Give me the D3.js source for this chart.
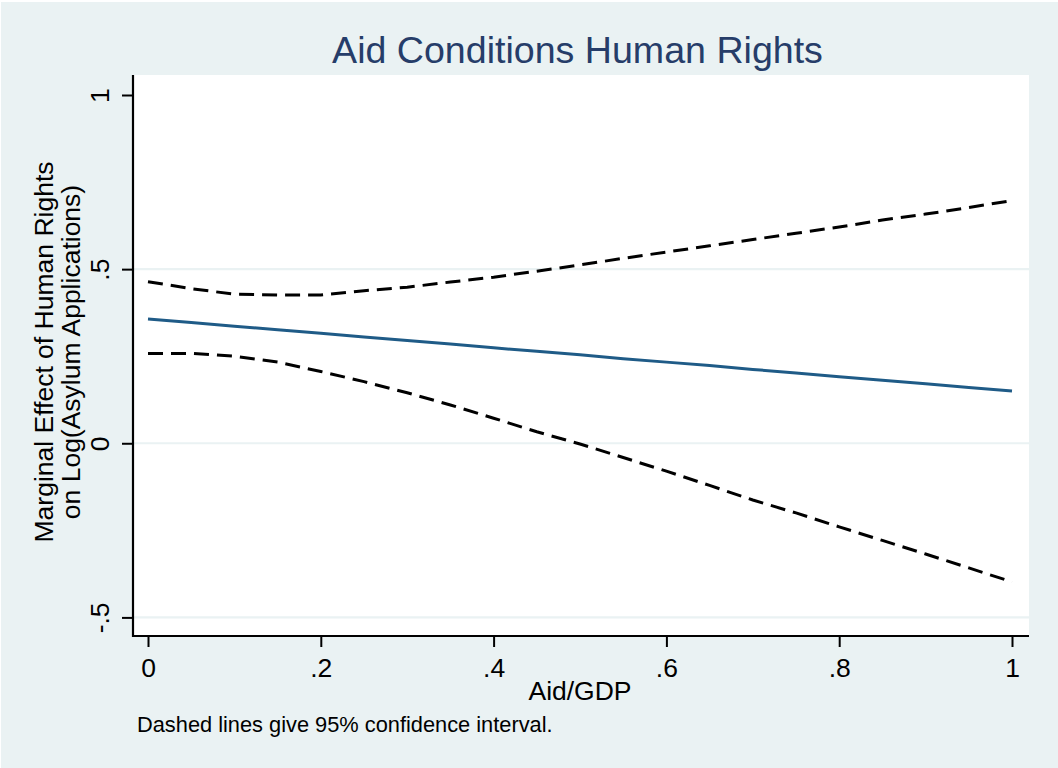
<!DOCTYPE html>
<html>
<head>
<meta charset="utf-8">
<script src="https://cdn.jsdelivr.net/npm/d3@7/dist/d3.min.js"></script>
<style>
  html, body { margin: 0; padding: 0; background: #ffffff; }
  svg { display: block; }
  text { font-family: "Liberation Sans", Arial, Helvetica, sans-serif; }
</style>
</head>
<body>
<svg id="chart" width="1058" height="768"></svg>
<script>
// Aid/GDP grid at which the marginal effect is evaluated
const aidGdp = [0, 0.05, 0.10, 0.15, 0.20, 0.25, 0.30, 0.35, 0.40, 0.45, 0.50,
                0.55, 0.60, 0.65, 0.70, 0.75, 0.80, 0.85, 0.90, 0.95, 1.00];

// Marginal effect of human rights on log(asylum applications)
const effect = [0.357, 0.347, 0.336, 0.326, 0.316, 0.305, 0.295, 0.285, 0.274, 0.264, 0.254,
                0.243, 0.233, 0.223, 0.212, 0.202, 0.191, 0.181, 0.171, 0.160, 0.150];

// 95% confidence bounds
const upperCI = [0.464, 0.444, 0.428, 0.426, 0.426, 0.438, 0.448, 0.463, 0.477, 0.494, 0.512,
                 0.531, 0.549, 0.567, 0.585, 0.603, 0.621, 0.641, 0.658, 0.677, 0.697];
const lowerCI = [0.258, 0.258, 0.250, 0.233, 0.206, 0.177, 0.145, 0.110, 0.072, 0.033, -0.002,
                 -0.041, -0.080, -0.121, -0.163, -0.200, -0.240, -0.279, -0.318, -0.358, -0.398];

// Axis ticks and labels
const xTickValues = [0, 0.2, 0.4, 0.6, 0.8, 1];
const xTickLabels = ["0", ".2", ".4", ".6", ".8", "1"];
const yTickValues = [-0.5, 0, 0.5, 1];
const yTickLabels = ["-.5", "0", ".5", "1"];
const yGridValues = [-0.5, 0, 0.5];

const titleText = "Aid Conditions Human Rights";
const yTitleLines = ["Marginal Effect of Human Rights", "on Log(Asylum Applications)"];
const xTitleText = "Aid/GDP";
const noteText = "Dashed lines give 95% confidence interval.";

const svg = d3.select("#chart");
const W = 1058, H = 768;

// graph region background
svg.append("rect")
  .attr("x", 1).attr("y", 2).attr("width", W - 1).attr("height", H - 2)
  .attr("fill", "#eaf2f3");

// plot region
const plot = { left: 133, right: 1029, top: 75, bottom: 636 };
svg.append("rect")
  .attr("x", plot.left).attr("y", plot.top)
  .attr("width", plot.right - plot.left).attr("height", plot.bottom - plot.top)
  .attr("fill", "#ffffff");

const x = d3.scaleLinear().domain([0, 1]).range([148, 1012]);
const y = d3.scaleLinear().domain([-0.5, 1]).range([617.4, 95]);

// horizontal grid lines
svg.append("g").selectAll("line")
  .data(yGridValues)
  .join("line")
  .attr("x1", plot.left).attr("x2", plot.right)
  .attr("y1", d => y(d)).attr("y2", d => y(d))
  .attr("stroke", "#eaf2f3").attr("stroke-width", 2.2);

// series
const rows = aidGdp.map((a, i) => ({ a, m: effect[i], lo: lowerCI[i], hi: upperCI[i] }));
const lineOf = key => d3.line().x(d => x(d.a)).y(d => y(d[key]));

svg.append("path").datum(rows)
  .attr("d", lineOf("hi"))
  .attr("fill", "none").attr("stroke", "#000").attr("stroke-width", 3)
  .attr("stroke-dasharray", "15,8");

svg.append("path").datum(rows)
  .attr("d", lineOf("lo"))
  .attr("fill", "none").attr("stroke", "#000").attr("stroke-width", 3)
  .attr("stroke-dasharray", "15,8");

svg.append("path").datum(rows)
  .attr("d", lineOf("m"))
  .attr("fill", "none").attr("stroke", "#1f5b87").attr("stroke-width", 3);

// x axis
const xAxis = svg.append("g")
  .attr("transform", `translate(0,${plot.bottom})`)
  .call(d3.axisBottom(x)
    .tickValues(xTickValues)
    .tickFormat((d, i) => xTickLabels[i])
    .tickSize(11).tickSizeOuter(0).tickPadding(8));
xAxis.select(".domain").remove();
xAxis.selectAll(".tick line").attr("stroke", "#000").attr("stroke-width", 2);
xAxis.selectAll(".tick text")
  .attr("fill", "#000").attr("font-size", 26.5)
  .attr("font-family", "'Liberation Sans', Arial, sans-serif")
  .attr("y", 41).attr("dy", 0);

// y axis
const yAxis = svg.append("g")
  .attr("transform", `translate(${plot.left},0)`)
  .call(d3.axisLeft(y)
    .tickValues(yTickValues)
    .tickFormat((d, i) => yTickLabels[i])
    .tickSize(11).tickSizeOuter(0));
yAxis.select(".domain").remove();
yAxis.selectAll(".tick line").attr("stroke", "#000").attr("stroke-width", 2);
yAxis.selectAll(".tick text")
  .attr("fill", "#000").attr("font-size", 26.5)
  .attr("font-family", "'Liberation Sans', Arial, sans-serif")
  .attr("text-anchor", "middle")
  .attr("transform", "rotate(-90)")
  .attr("x", 0).attr("y", -24).attr("dy", 0);

// axis lines
svg.append("line")
  .attr("x1", plot.left).attr("x2", plot.left)
  .attr("y1", plot.top).attr("y2", plot.bottom + 1)
  .attr("stroke", "#000").attr("stroke-width", 2.2);
svg.append("line")
  .attr("x1", plot.left - 1).attr("x2", plot.right)
  .attr("y1", plot.bottom).attr("y2", plot.bottom)
  .attr("stroke", "#000").attr("stroke-width", 2.2);

// titles
svg.append("text")
  .attr("x", 577.5).attr("y", 63)
  .attr("text-anchor", "middle")
  .attr("font-size", 37.6).attr("fill", "#263d69")
  .text(titleText);

yTitleLines.forEach((t, i) => {
  svg.append("text")
    .attr("transform", `translate(${53 + i * 27},352) rotate(-90)`)
    .attr("text-anchor", "middle")
    .attr("font-size", 26.5).attr("fill", "#000")
    .text(t);
});

svg.append("text")
  .attr("x", 580).attr("y", 700)
  .attr("text-anchor", "middle")
  .attr("font-size", 26.5).attr("fill", "#000")
  .text(xTitleText);

svg.append("text")
  .attr("x", 137).attr("y", 732)
  .attr("font-size", 21.8).attr("fill", "#000")
  .text(noteText);
</script>
</body>
</html>
